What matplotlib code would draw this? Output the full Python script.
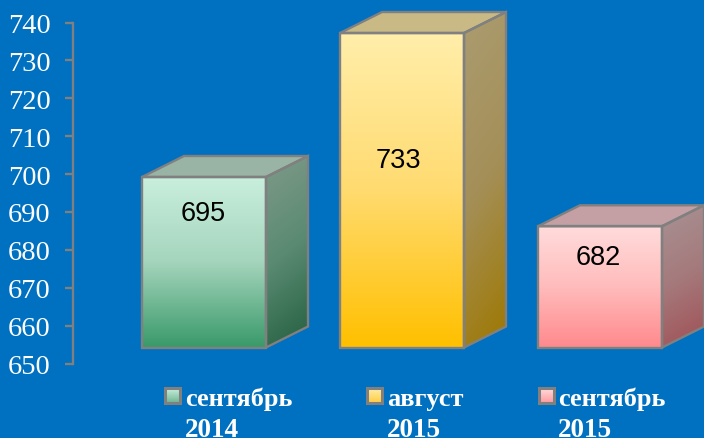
import numpy as np
import matplotlib
matplotlib.use("Agg")
import matplotlib.pyplot as plt
from matplotlib.colors import LinearSegmentedColormap
from matplotlib.patches import Polygon

categories = ["сентябрь\n2014", "август\n2015", "сентябрь\n2015"]
values = [695, 733, 682]
yticks = [650, 660, 670, 680, 690, 700, 710, 720, 730, 740]

# styles
front_cols = [("#c9efdd", "#a5d5bd", "#3a9a6a"), ("#ffeeaa", "#ffdb70", "#ffc000"), ("#ffdcdc", "#ffbcbc", "#ff8a8e")]
side_cols = [("#7f9a8a", "#5a8a72", "#235f3f"), ("#ab9c70", "#a48f58", "#9e7800"), ("#a89294", "#a57a7c", "#a05055")]
top_cols = ["#99b4a4", "#c8b985", "#c4a0a4"]
legend_cols = [("#c9efdd", "#6fb592"), ("#ffeeaa", "#ffcc40"), ("#ffdcdc", "#ff9a9e")]
label_values = [689.8, 703.8, 678.2]
label_shift_px = [-1, -4, -2]
BG = "#0070c0"
GREY = "#808080"
W, H = 704, 439

fig = plt.figure(figsize=(W / 100, H / 100), dpi=100, facecolor=BG)
L, R, T, B = 73, 704, 23.5, 364.5
ax = fig.add_axes([L / W, 1 - B / H, (R - L) / W, (B - T) / H], facecolor="none")

x_min, x_max = (73 - 204) / 198, (704 - 204) / 198
y_min, y_max = 650, 740
px_x = 1 / 198
px_y = (y_max - y_min) / (B - T)
half = 62 * px_x
lift = 16 * px_y          # front face sits above the axis floor
dx, dy = 42 * px_x, 21 * px_y
LW = 1.7


def fill(poly_pts, cols, extent, direction="v"):
    cmap = LinearSegmentedColormap.from_list("c", cols)
    g = np.linspace(0, 1, 128)[:, None]
    if direction == "d":
        xx, yy = np.meshgrid(np.linspace(0, 1, 64), np.linspace(0, 1, 128))
        g = np.clip(yy * 0.85 + xx * 0.15, 0, 1)
    im = ax.imshow(g, cmap=cmap, vmin=0, vmax=1, extent=extent, origin="upper",
                   aspect="auto", interpolation="bilinear", zorder=2)
    p = Polygon(poly_pts, closed=True, fc="none", ec=GREY, lw=LW, zorder=3,
                joinstyle="miter", clip_on=False)
    ax.add_patch(p)
    im.set_clip_path(p)
    im.set_clip_box(fig.bbox)


for i, v in enumerate(values):
    x0, x1 = i - half, i + half
    y0, y1 = y_min + lift, v + lift
    # top face
    ax.add_patch(Polygon([(x0, y1), (x1, y1), (x1 + dx, y1 + dy), (x0 + dx, y1 + dy)],
                         closed=True, fc=top_cols[i], ec=GREY, lw=LW, zorder=3,
                         joinstyle="miter", clip_on=False))
    # side face
    fill([(x1, y0), (x1 + dx, y0 + dy), (x1 + dx, y1 + dy), (x1, y1)], side_cols[i],
         (x1, x1 + dx, y0, y1 + dy), "d")
    # front face
    fill([(x0, y0), (x1, y0), (x1, y1), (x0, y1)], front_cols[i], (x0, x1, y0, y1))
    ax.text(i + label_shift_px[i] * px_x, label_values[i], str(v), ha="center", va="center",
            fontsize=19.5, family="Liberation Sans", color="black", zorder=5)

ax.set_xlim(x_min, x_max)
ax.set_ylim(y_min, y_max)
ax.set_xticks([])
ax.set_yticks(yticks)
for s in ("top", "right", "bottom"):
    ax.spines[s].set_visible(False)
ax.spines["left"].set_color(GREY)
ax.spines["left"].set_linewidth(LW)
ax.tick_params(axis="y", length=6, width=LW, color=GREY, pad=10, direction="out",
               labelsize=20.5, labelcolor="white")
for t in ax.get_yticklabels():
    t.set_family("Liberation Serif")

swatch_x = [165, 367, 539]
text_x = [185, 387, 558]
for i, cat in enumerate(categories):
    sax = fig.add_axes([swatch_x[i] / W, 1 - 404 / H, 15 / W, 15 / H])
    cmap = LinearSegmentedColormap.from_list("s", legend_cols[i])
    sax.imshow(np.linspace(0, 1, 32)[:, None], cmap=cmap, aspect="auto", interpolation="bilinear")
    sax.set_xticks([])
    sax.set_yticks([])
    for sp in sax.spines.values():
        sp.set_color(GREY)
        sp.set_linewidth(2.2)
    line1, line2 = cat.split("\n")
    fig.text(text_x[i] / W, 1 - 406 / H, line1, ha="left", va="baseline", color="white",
             fontsize=19, fontweight="bold", family="Liberation Serif")
    fig.text(text_x[i] / W, 1 - 437 / H, line2, ha="left", va="baseline", color="white",
             fontsize=19.5, fontweight="bold", family="Liberation Serif")

fig.savefig("out.png", dpi=100, facecolor=BG)
